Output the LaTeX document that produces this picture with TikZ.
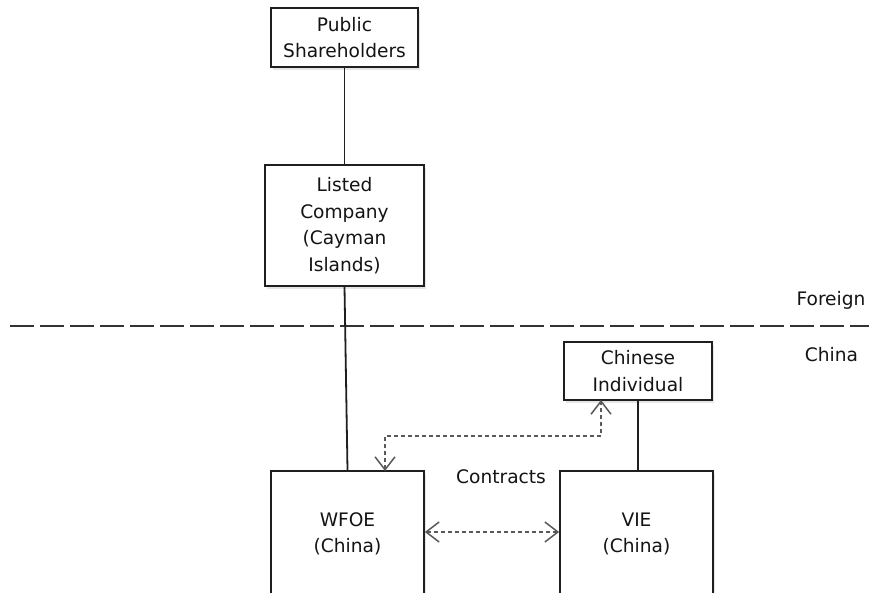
\documentclass[tikz,border=0pt]{standalone}
\usepackage{fontspec}
\setmainfont{DejaVu Sans}
\usetikzlibrary{arrows.meta,shadows}
\begin{document}
\begin{tikzpicture}[x=1pt,y=-1pt,
  txt/.style={font=\fontsize{18.6}{26.5}\selectfont, text=black!92, align=center, inner sep=0pt},
  ent/.style={txt, draw=black!88, line width=1.7pt, fill=white, minimum width=#1, drop shadow={opacity=0.2, shadow xshift=2pt, shadow yshift=-3pt}},
  link/.style={draw=black!88, line width=1.8pt},
  contract/.style={draw=black!65, line width=1.5pt, dash pattern=on 4pt off 3pt, {Straight Barb[length=13pt,width=20pt]}-{Straight Barb[length=13pt,width=20pt]}},
  border/.style={draw=black!80, line width=1.9pt, dash pattern=on 24pt off 6pt}]
\clip (0,0) rectangle (869,593);
\useasboundingbox (0,0) rectangle (869,593);
\fill[white] (0,0) rectangle (869,593);
% separator
\coordinate (sepL) at (10,326);
\coordinate (sepR) at (869,326);
\draw[border] (sepL) -- (sepR);
\node[txt] (foreign) at (831,300) {Foreign};
\node[txt] (china) at (831.5,355) {China};
% entities
\node[ent=147pt, minimum height=59pt] (pub) at (344.5,37.5) {Public\\Shareholders};
\node[ent=159pt, minimum height=121pt] (listed) at (344.5,225.5) {Listed\\Company\\(Cayman\\Islands)};
\node[ent=148pt, minimum height=58pt] (chin) at (638,371) {Chinese\\Individual};
\node[ent=153pt, minimum height=136pt] (wfoe) at (347.5,539) {};
\node[txt] (wfoetxt) at (347.5,534) {WFOE\\(China)};
\node[ent=153pt, minimum height=136pt] (vie) at (636.5,539) {};
\node[txt] (vietxt) at (636.5,534) {VIE\\(China)};
\node[txt] (contracts) at (501,477) {Contracts};
% links
\draw[link] (pub.south) -- (listed.south |- listed.north);
\draw[link] (listed.south) -- (wfoe.north);
\draw[link] (chin.south) -- (chin.south |- vie.north);
% contracts
\coordinate (wtop) at (385,471);
\coordinate (ctop) at (601,400);
\draw[contract] (wtop) -- (385,436) -- (601,436) -- (ctop);
\draw[contract] (wfoe.east |- 0,532) -- (vie.west |- 0,532);
\end{tikzpicture}
\end{document}
